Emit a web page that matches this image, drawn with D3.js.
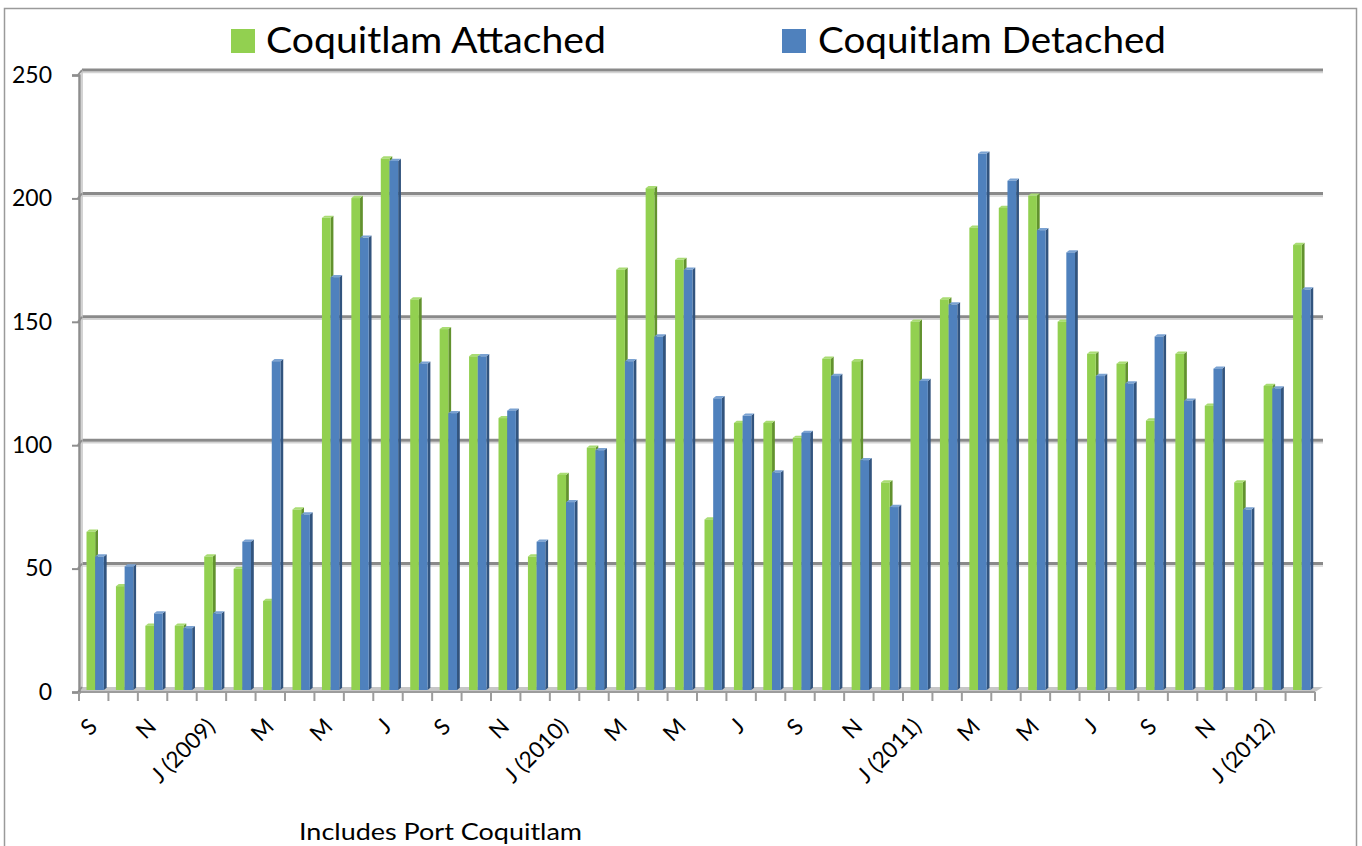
<!DOCTYPE html>
<html>
<head>
<meta charset="utf-8">
<script src="https://cdn.jsdelivr.net/npm/d3@7"></script>
<style>
  body { margin: 0; background: #fff; }
  svg { display: block; font-family: Lato, "Open Sans", sans-serif; }
</style>
</head>
<body>
<svg id="chart" width="1362" height="846"></svg>
<script>
'use strict';

// Sep 2008 .. Feb 2012, every other month labelled
const months = ["S", "", "N", "", "J (2009)", "", "M", "", "M", "", "J", "", "S", "", "N", "",
    "J (2010)", "", "M", "", "M", "", "J", "", "S", "", "N", "", "J (2011)", "", "M", "", "M", "",
    "J", "", "S", "", "N", "", "J (2012)", ""]

const attached = [64, 42, 26, 26, 54, 49, 36, 73, 191, 199, 215, 158, 146, 135, 110, 54, 87, 98,
    170, 203, 174, 69, 108, 108, 102, 134, 133, 84, 149, 158, 187, 195, 200, 149, 136, 132, 109,
    136, 115, 84, 123, 180]

const detached = [54, 50, 31, 25, 31, 60, 133, 71, 167, 183, 214, 132, 112, 135, 113, 60, 76, 97,
    133, 143, 170, 118, 111, 88, 104, 127, 93, 74, 125, 156, 217, 206, 186, 177, 127, 124, 143,
    117, 130, 73, 122, 162]

const seriesNames = ["Coquitlam Attached", "Coquitlam Detached"]
const yTicks = [0, 50, 100, 150, 200, 250]

let svg = d3.select("#chart")

// colours: front, side, top
let palette = [
    { front: "#92d050", side: "#62922e", top: "#a9dc73" },
    { front: "#4f81bd", side: "#32547e", top: "#7aa2d2" }
]

// outer frame
svg.append("rect")
    .attr("x", 4.5).attr("y", 8.5)
    .attr("width", 1352).attr("height", 860)
    .attr("fill", "none").attr("stroke", "#9a9a9a").attr("stroke-width", 1.5)

let x = d3.scaleBand().domain(d3.range(months.length)).range([79, 1315])
let yFront = d3.scaleLinear().domain([0, 250]).range([692, 75])
let yBack = d3.scaleLinear().domain([0, 250]).range([687, 70])
let yBar = d3.scaleLinear().domain([0, 250]).range([690, 72])
let bw = x.bandwidth()

// gridlines on back wall
let grid = svg.append("g")
grid.selectAll("line.shadow")
    .data(yTicks.filter(d => d > 0))
    .enter().append("line")
    .attr("x1", 82).attr("x2", 1323)
    .attr("y1", d => yBack(d) + 2.5).attr("y2", d => yBack(d) + 2.5)
    .attr("stroke", "#d4d4d4").attr("stroke-width", 1.5)
grid.selectAll("line.main")
    .data(yTicks.filter(d => d > 0))
    .enter().append("line")
    .attr("x1", 82).attr("x2", 1323)
    .attr("y1", d => yBack(d)).attr("y2", d => yBack(d))
    .attr("stroke", "#8a8a8a").attr("stroke-width", 3)

// back wall left edge
svg.append("line")
    .attr("x1", 82).attr("x2", 82)
    .attr("y1", yBack(250)).attr("y2", yBack(0))
    .attr("stroke", "#c4c4c4").attr("stroke-width", 1.5)

// floor
svg.append("path")
    .attr("d", `M79,${yFront(0)} L82,${yBack(0)} L1323,${yBack(0)} L1315,${yFront(0)} Z`)
    .attr("fill", "#c6c6c6").attr("stroke", "none")
svg.append("line")
    .attr("x1", 79).attr("x2", 1315)
    .attr("y1", yFront(0)).attr("y2", yFront(0))
    .attr("stroke", "#9c9c9c").attr("stroke-width", 2)

// y axis
let yAxis = svg.append("g")
    .attr("transform", "translate(79,0)")
    .call(d3.axisLeft(yFront).tickValues(yTicks).tickSize(7).tickPadding(20))
yAxis.select(".domain").attr("stroke", "#8e8e8e").attr("stroke-width", 2.5)
yAxis.selectAll(".tick line").attr("stroke", "#8e8e8e").attr("stroke-width", 2)
yAxis.selectAll(".tick text")
    .attr("font-size", 23).attr("fill", "#000")
    .attr("font-family", "Lato, 'Open Sans', sans-serif")

// little bends from axis ticks up to the back gridlines
svg.append("g").selectAll("path")
    .data(yTicks)
    .enter().append("path")
    .attr("d", d => `M78,${yFront(d)} L82,${yBack(d)}`)
    .attr("stroke", "#8e8e8e").attr("stroke-width", 2).attr("fill", "none")

// x axis boundary ticks
svg.append("g").selectAll("line")
    .data(d3.range(months.length + 1))
    .enter().append("line")
    .attr("x1", i => (i < months.length ? x(i) : 1315))
    .attr("x2", i => (i < months.length ? x(i) : 1315))
    .attr("y1", yFront(0)).attr("y2", yFront(0) + 9)
    .attr("stroke", "#9c9c9c").attr("stroke-width", 2)

// x labels
let xAxis = svg.append("g")
    .attr("transform", `translate(0,${yFront(0)})`)
    .call(d3.axisBottom(x).tickSize(0).tickFormat(i => months[i]))
xAxis.select(".domain").remove()
xAxis.selectAll(".tick text")
    .attr("font-size", 22.5).attr("fill", "#000")
    .attr("font-family", "Lato, 'Open Sans', sans-serif")
    .attr("text-anchor", "end")
    .attr("x", 0).attr("y", 0).attr("dy", 0)
    .attr("transform", "translate(5,36) rotate(-45)")

// bars
let series = [attached, detached]
let offsets = [0.255, 0.55]
let barW = bw * 0.295
let dx = 2.8, dy = 2.2

let groups = svg.append("g").selectAll("g")
    .data(months.map((m, i) => i))
    .enter().append("g")

series.forEach(function(values, s) {
    let c = palette[s]
    groups.each(function(i) {
        let g = d3.select(this)
        let x0 = x(i) + bw * offsets[s]
        let x1 = x0 + barW
        let top = yBar(values[i])
        let base = yBar(0)
        // side
        g.append("path")
            .attr("d", `M${x1},${top} L${x1 + dx},${top - dy} L${x1 + dx},${base - dy} L${x1},${base} Z`)
            .attr("fill", c.side)
        // top
        g.append("path")
            .attr("d", `M${x0},${top} L${x0 + dx},${top - dy} L${x1 + dx},${top - dy} L${x1},${top} Z`)
            .attr("fill", c.top)
        // front
        g.append("rect")
            .attr("x", x0).attr("y", top)
            .attr("width", barW).attr("height", base - top)
            .attr("fill", c.front)
    })
})

// legend
let legendPos = [{ sx: 231, tx: 266, w: 340 }, { sx: 782, tx: 818, w: 348 }]
let legend = svg.append("g").selectAll("g")
    .data(seriesNames)
    .enter().append("g")
legend.append("rect")
    .attr("x", (d, i) => legendPos[i].sx).attr("y", 29)
    .attr("width", 24).attr("height", 24)
    .attr("fill", (d, i) => palette[i].front)
legend.append("text")
    .attr("x", (d, i) => legendPos[i].tx).attr("y", 53)
    .attr("font-size", 37)
    .attr("textLength", (d, i) => legendPos[i].w)
    .attr("lengthAdjust", "spacingAndGlyphs")
    .text(d => d)

// footnote
svg.append("text")
    .attr("x", 299).attr("y", 840)
    .attr("font-size", 24)
    .attr("textLength", 283)
    .attr("lengthAdjust", "spacingAndGlyphs")
    .text("Includes Port Coquitlam")
</script>
</body>
</html>
